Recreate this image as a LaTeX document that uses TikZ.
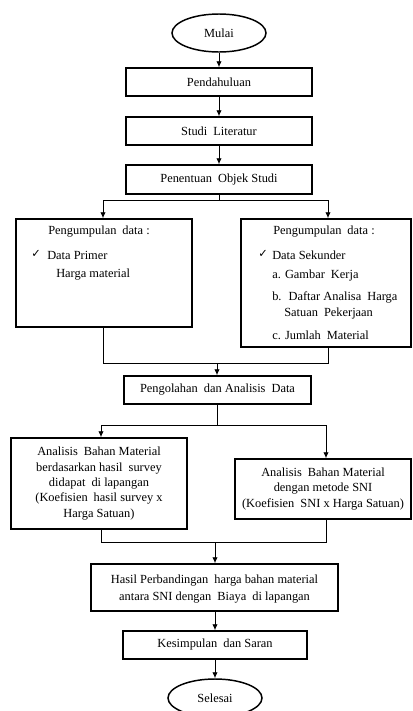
\documentclass[tikz,border=0pt]{standalone}
\usepackage{fontspec}
\setmainfont{Liberation Serif}
\newfontfamily\symfont{DejaVu Sans}
\usetikzlibrary{shapes.geometric,arrows.meta}
\newcommand{\fs}{\fontsize{9.3}{11.6}\selectfont}
\newcommand{\ck}{{\symfont\fontsize{8.5}{9}\selectfont ✓}}
\newcommand{\ws}{\hspace{2.2pt}}
\begin{document}
\begin{tikzpicture}[x=0.75pt,y=-0.75pt,
  box/.style={draw, line width=1.1pt, inner sep=0pt, align=center, font=\fs},
  term/.style={ellipse, draw, line width=1.1pt, inner sep=0pt, font=\fs},
  conn/.style={line width=0.7pt},
  arr/.style={conn, -{Latex[length=4.5pt,width=4pt]}},
  txt/.style={inner sep=0pt, anchor=west, font=\fs}]
\useasboundingbox (0,0) rectangle (413,711);

\node[term, minimum width=94*0.75pt, minimum height=38*0.75pt] (mulai) at (219,33) {Mulai};
\node[box, minimum width=186*0.75pt, minimum height=28*0.75pt] (pend) at (219,82) {Pendahuluan};
\node[box, minimum width=186*0.75pt, minimum height=28*0.75pt] (studi) at (219,131) {Studi\ws{} Literatur};
\node[box, minimum width=186*0.75pt, minimum height=29*0.75pt] (objek) at (219,179.5) {Penentuan\ws{} Objek Studi};

\node[box, minimum width=176*0.75pt, minimum height=108*0.75pt] (p1) at (104,273) {};
\node[box, minimum width=170*0.75pt, minimum height=128*0.75pt] (p2) at (326,283) {};

\node[txt] (p1a) at (48,232) {Pengumpulan\ws{} data :};
\node[txt] (p1b) at (31,254) {\ck};
\node[txt] (p1c) at (47,255) {Data Primer};
\node[txt] (p1d) at (56,275) {Harga material};

\node[txt] (p2a) at (273,232) {Pengumpulan\ws{} data :};
\node[txt] (p2b) at (258,254) {\ck};
\node[txt] (p2c) at (272,255) {Data Sekunder};
\node[txt] (p2d) at (272,276) {a. Gambar\ws{} Kerja};
\node[txt] (p2e) at (272,297) {b.\ws{} Daftar Analisa\ws{} Harga};
\node[txt] (p2f) at (284,314) {Satuan\ws{} Pekerjaan};
\node[txt] (p2g) at (272,335) {c. Jumlah\ws{} Material};

\node[box, minimum width=187*0.75pt, minimum height=28*0.75pt] (olah) at (217.5,390) {Pengolahan\ws{} dan Analisis\ws{} Data};

\node[box, minimum width=176*0.75pt, minimum height=91*0.75pt] (a1) at (99,483.5)
  {Analisis\ws{} Bahan Material\\berdasarkan hasil\ws{} survey\\didapat\ws{} di lapangan\\(Koefisien\ws{} hasil survey x\\Harga Satuan)};
\node[box, minimum width=176*0.75pt, minimum height=60*0.75pt] (a2) at (323,489)
  {Analisis\ws{} Bahan Material\\dengan metode SNI\\(Koefisien\ws{} SNI x Harga Satuan)};

\node[box, minimum width=247*0.75pt, minimum height=47*0.75pt, text depth=0pt] (hasil) at (214.5,587.5)
  {Hasil Perbandingan\ws{} harga bahan material\\[1.5pt]antara SNI dengan\ws{} Biaya\ws{} di lapangan};
\node[box, minimum width=184*0.75pt, minimum height=28*0.75pt] (kes) at (215,645) {Kesimpulan\ws{} dan Saran};
\node[term, minimum width=94*0.75pt, minimum height=38*0.75pt] (selesai) at (215,698) {Selesai};

% connectors
\draw[arr] (mulai) -- (pend);
\draw[arr] (pend) -- (studi);
\draw[arr] (studi) -- (objek);

\coordinate (j1) at (219,200);
\coordinate (j1l) at (103,200);
\coordinate (j1r) at (328,200);
\draw[conn] (objek.south) -- (j1);
\draw[conn] (j1l) -- (j1r);
\draw[arr] (j1l) -- (j1l |- p1.north);
\draw[arr] (j1r) -- (j1r |- p2.north);

\coordinate (j2l) at (103,363);
\coordinate (j2r) at (328,363);
\coordinate (j2) at (217,363);
\draw[conn] (j2l |- p1.south) -- (j2l) -- (j2r) -- (j2r |- p2.south);
\draw[arr] (j2) -- (j2 |- olah.north);

\coordinate (j3) at (217,425);
\coordinate (j3l) at (101,425);
\coordinate (j3r) at (326,425);
\draw[conn] (j3 |- olah.south) -- (j3);
\draw[conn] (j3l) -- (j3r);
\draw[arr] (j3l) -- (j3l |- a1.north);
\draw[arr] (j3r) -- (j3r |- a2.north);

\coordinate (j4l) at (101,542);
\coordinate (j4r) at (326,542);
\coordinate (j4) at (215,542);
\draw[conn] (j4l |- a1.south) -- (j4l) -- (j4r) -- (j4r |- a2.south);
\draw[arr] (j4) -- (j4 |- hasil.north);

\draw[arr] (hasil.south -| kes.north) -- (kes.north);
\draw[arr] (kes) -- (selesai);
\end{tikzpicture}
\end{document}
